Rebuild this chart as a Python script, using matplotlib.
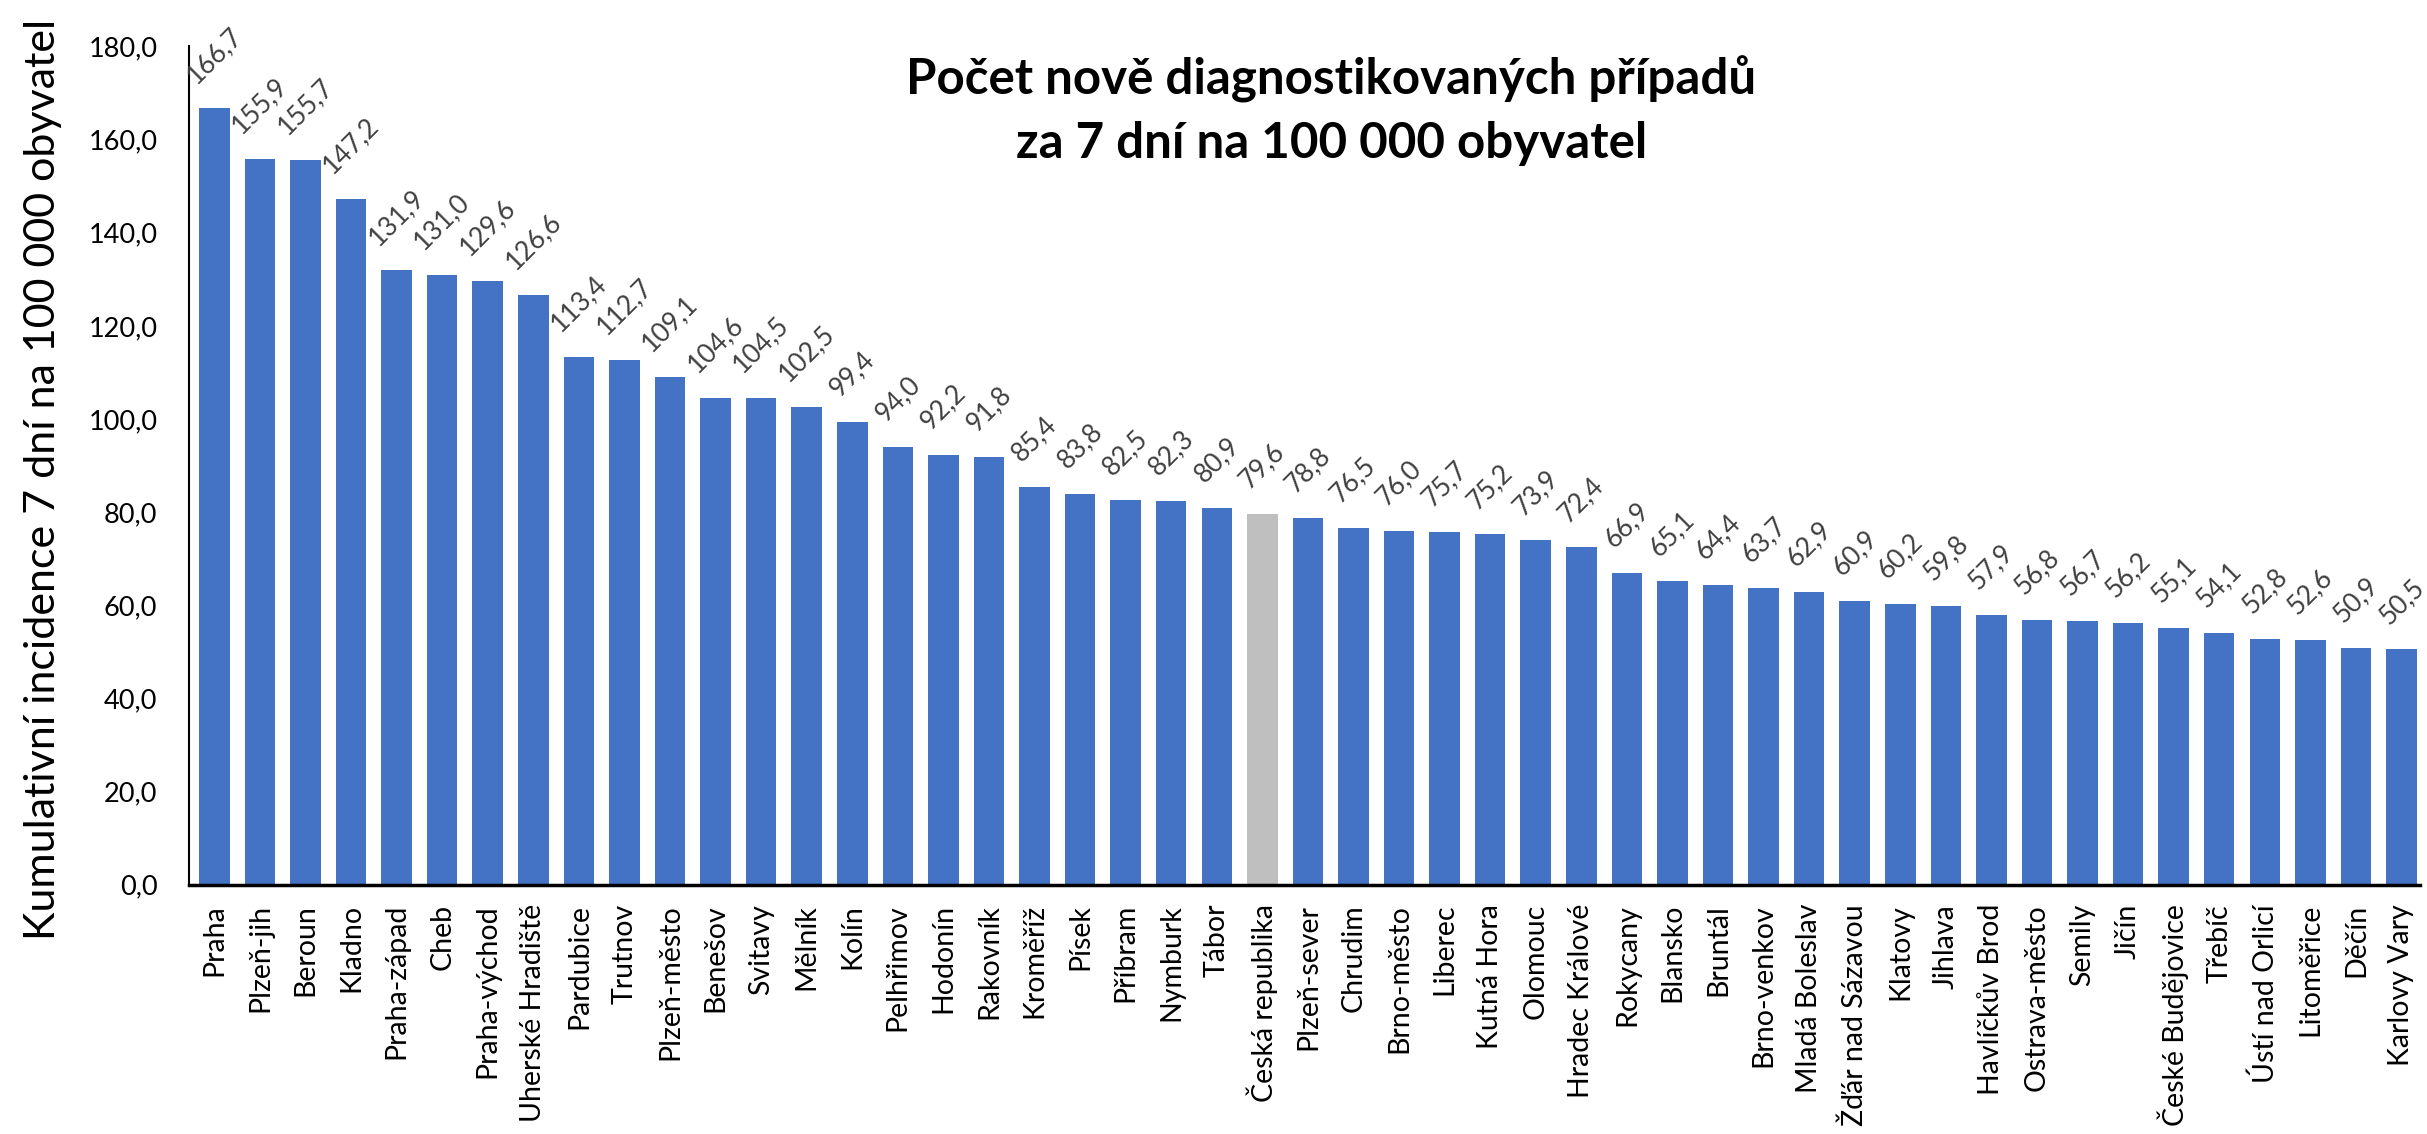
import matplotlib
matplotlib.use("Agg")
import matplotlib.pyplot as plt
from matplotlib.ticker import FuncFormatter

okresy = ["Praha", "Plzeň-jih", "Beroun", "Kladno", "Praha-západ", "Cheb",
          "Praha-východ", "Uherské Hradiště", "Pardubice", "Trutnov",
          "Plzeň-město", "Benešov", "Svitavy", "Mělník", "Kolín", "Pelhřimov",
          "Hodonín", "Rakovník", "Kroměříž", "Písek", "Příbram", "Nymburk",
          "Tábor", "Česká republika", "Plzeň-sever", "Chrudim", "Brno-město",
          "Liberec", "Kutná Hora", "Olomouc", "Hradec Králové", "Rokycany",
          "Blansko", "Bruntál", "Brno-venkov", "Mladá Boleslav",
          "Žďár nad Sázavou", "Klatovy", "Jihlava", "Havlíčkův Brod",
          "Ostrava-město", "Semily", "Jičín", "České Budějovice", "Třebíč",
          "Ústí nad Orlicí", "Litoměřice", "Děčín", "Karlovy Vary"]
incidence = [166.7, 155.9, 155.7, 147.2, 131.9, 131.0, 129.6, 126.6, 113.4,
             112.7, 109.1, 104.6, 104.5, 102.5, 99.4, 94.0, 92.2, 91.8, 85.4,
             83.8, 82.5, 82.3, 80.9, 79.6, 78.8, 76.5, 76.0, 75.7, 75.2, 73.9,
             72.4, 66.9, 65.1, 64.4, 63.7, 62.9, 60.9, 60.2, 59.8, 57.9, 56.8,
             56.7, 56.2, 55.1, 54.1, 52.8, 52.6, 50.9, 50.5]

FONT = ["Lato", "DejaVu Sans"]
plt.rcParams["font.family"] = FONT

def cz(v):
    return f"{v:.1f}".replace(".", ",")

fig = plt.figure(figsize=(24.27, 11.34), dpi=100)
ax = fig.add_axes([0.078, 0.22, 0.919, 0.739])

x = list(range(len(okresy)))
colors = ["#BFBFBF" if o == "Česká republika" else "#4472C4" for o in okresy]
ax.bar(x, incidence, width=0.67, color=colors)

# popisky hodnot - natočené o 45°, vycentrované nad sloupcem
for i, v in zip(x, incidence):
    ax.text(i, v + 4.5, cz(v), rotation=45, ha="center", va="bottom",
            fontsize=19, color="#404040", clip_on=False)

ax.set_xlim(-0.55, len(okresy) - 0.6)
ax.set_ylim(0, 180)
ax.set_yticks(range(0, 181, 20))
ax.yaxis.set_major_formatter(FuncFormatter(lambda v, p: cz(v)))
ax.set_xticks(x)
ax.set_xticklabels(okresy, rotation=90, fontsize=20.5)
ax.tick_params(axis="y", length=0, labelsize=19.5, pad=23)
ax.tick_params(axis="x", length=0, pad=14)

for s in ["top", "right"]:
    ax.spines[s].set_visible(False)
ax.spines["left"].set_color("black")
ax.spines["bottom"].set_color("black")
ax.spines["bottom"].set_linewidth(2.5)
ax.spines["left"].set_linewidth(1.5)

ax.set_ylabel("Kumulativní incidence 7 dní na 100 000 obyvatel", fontsize=31)
ax.yaxis.set_label_coords(-0.057, 0.483)

fig.text(0.5485, 0.951, "Počet nově diagnostikovaných případů\nza 7 dní na 100 000 obyvatel",
         ha="center", va="top", fontsize=35.5, fontweight="bold",
         linespacing=1.5)

fig.savefig("out.png", dpi=100)
